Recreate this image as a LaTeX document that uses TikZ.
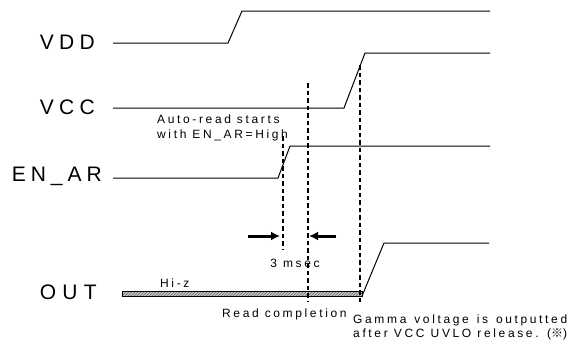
\documentclass[tikz,border=0pt]{standalone}
\usepackage{fontspec}
\setmainfont{Liberation Sans}
\newfontfamily\notefont[LetterSpace=22]{Liberation Sans}
\newfontfamily\cjk{Noto Sans CJK JP}
\usetikzlibrary{patterns,arrows.meta}

\newcommand{\spread}[2]{\makebox[#1][s]{#2}}

\tikzset{
  signal/.style={line width=1pt, black},
  marker/.style={line width=2pt, dash pattern=on 4.5pt off 3pt},
  pointer/.style={-{Latex[length=9pt,width=9pt]}, line width=3pt},
  siglabel/.style={anchor=base east, inner sep=0pt, font=\fontsize{21}{25}\selectfont},
  note/.style={anchor=base west, inner sep=0pt, font=\notefont\fontsize{12}{15}\selectfont},
}

\begin{document}
\begin{tikzpicture}[x=1pt, y=-1pt]
	\useasboundingbox (0,0) rectangle (569,343);
	
	% signal names
	\node[siglabel] (vdd) at (95,49.5) {\spread{55pt}{V\hfill D\hfill D}};
	\node[siglabel] (vcc) at (95,114) {\spread{55pt}{V\hfill C\hfill C}};
	\node[siglabel] (enar) at (102,181.5) {\spread{90pt}{E\hfill N\hfill \_\hfill A\hfill R}};
	\node[siglabel] (out) at (97,299) {\spread{57pt}{O\hfill U\hfill T}};
	
	% waveforms
	\draw[signal] (113,43) -- (228,43) -- (242,11) -- (490,11);
	\draw[signal] (113,108) -- (344,108) -- (365,53) -- (490,53);
	\draw[signal] (113,178) -- (278,178) -- (290,146) -- (490,146);
	\fill[gray!45] (122,291) rectangle (362,296);
	\fill[pattern=north east lines, pattern color=gray!80!black] (122,291) rectangle (362,296);
	\draw[signal] (122,291) rectangle (362,296);
	\draw[signal] (362,296) -- (384,243) -- (489,243);
	
	% timing markers
	\coordinate (start top) at (283,136);
	\coordinate (start bot) at (283,250);
	\coordinate (done top) at (308,83);
	\coordinate (done bot) at (308,302);
	\coordinate (uvlo top) at (360,65);
	\coordinate (uvlo bot) at (360,305);
	\draw[marker] (start top) -- (start bot);
	\draw[marker] (done top) -- (done bot);
	\draw[marker] (uvlo top) -- (uvlo bot);
	
	\coordinate (left tail) at (248,236);
	\coordinate (left tip) at (280,236);
	\coordinate (right tail) at (336,236);
	\coordinate (right tip) at (309,236);
	\draw[pointer] (left tail) -- (left tip);
	\draw[pointer] (right tail) -- (right tip);
	
	% notes
	\node[note] (auto1) at (157,123) {Auto-read starts};
	\node[note] (auto2) at (157,138) {with EN\_AR=High};
	\node[note, anchor=base] (gap) at (295,267) {3 msec};
	\node[note] (hiz) at (160,287) {Hi-z};
	\node[note] (read) at (222,317) {Read completion};
	\node[note] (gamma1) at (353,323) {\spread{214pt}{Gamma voltage is outputted}};
	\node[note] (gamma2) at (353,337) {\spread{214pt}{after VCC UVLO release. ({\cjk ※})}};
\end{tikzpicture}
\end{document}
